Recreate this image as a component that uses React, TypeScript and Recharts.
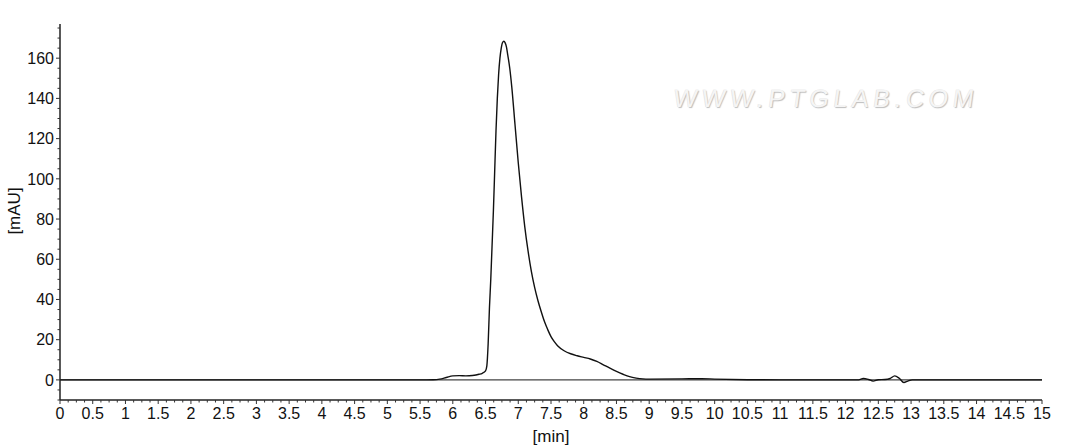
import React from "react";
import { LineChart, Line, XAxis, YAxis, ReferenceLine } from "recharts";

// retention time [min] and absorbance [mAU]
const times = [
  0, 5.5, 5.7, 5.8, 5.9, 6.0, 6.1, 6.2, 6.3, 6.4, 6.45, 6.5, 6.52, 6.54, 6.56,
  6.58, 6.6, 6.62, 6.64, 6.66, 6.68, 6.7, 6.72, 6.74, 6.76, 6.78, 6.8, 6.82,
  6.84, 6.87, 6.9, 6.95, 7.0, 7.05, 7.1, 7.15, 7.2, 7.25, 7.3, 7.35, 7.4, 7.45,
  7.5, 7.55, 7.6, 7.7, 7.8, 7.9, 8.0, 8.1, 8.2, 8.3, 8.4, 8.5, 8.6, 8.7, 8.8,
  8.9, 9.0, 9.5, 9.8, 10.0, 10.5, 11.0, 12.2, 12.27, 12.35, 12.42, 12.5, 12.6,
  12.68, 12.75, 12.82, 12.89, 12.95, 13.02, 13.2, 15,
];
const mAU = [
  0, 0, 0.1, 0.4, 1.2, 2.0, 2.1, 2.0, 2.2, 2.8, 3.3, 4.5, 7, 18, 36, 50, 67, 84,
  104, 124, 140, 152, 160, 165, 167.8, 168.4, 167.6, 165.5, 161.5, 155, 146,
  127, 108, 91, 76, 64, 54, 46, 39.5, 34, 29, 25, 21.5, 19, 17, 14.5, 13, 12,
  11.2, 10.4, 9.2, 7.5, 5.8, 4.2, 2.8, 1.6, 0.9, 0.5, 0.4, 0.5, 0.6, 0.4, 0.1,
  0, 0, 0.7, 0.2, -0.6, 0.1, 0.2, 0.7, 2.0, 0.8, -1.3, -0.6, 0, 0, 0,
];

const xTicks = Array.from({ length: 121 }, (_, i) => i * 0.125);
const yTicks = Array.from({ length: 38 }, (_, i) => -10 + i * 5);
const yLabels = [0, 20, 40, 60, 80, 100, 120, 140, 160];

const data = times.map((t, i) => ({ t, v: mAU[i] }));

const FONT = "'Liberation Sans', Arial, sans-serif";

const XTick = (props: any) => {
  const { x, y, payload } = props;
  const v = payload.value;
  const major = Math.abs(v * 2 - Math.round(v * 2)) < 1e-6;
  return (
    <g>
      <line x1={x} x2={x} y1={y} y2={y + (major ? 4 : 2.5)} stroke="#333" strokeWidth={1} />
      {major && (
        <text x={x} y={y + 19} textAnchor="middle" fontSize={16} fontFamily={FONT} fill="#111">
          {String(v)}
        </text>
      )}
    </g>
  );
};

const YTick = (props: any) => {
  const { x, y, payload } = props;
  const v = payload.value;
  const major = yLabels.includes(v);
  return (
    <g>
      <line x1={x} x2={x - (major ? 4 : 2.5)} y1={y} y2={y} stroke="#333" strokeWidth={1} />
      {major && (
        <text x={x - 6} y={y} dy="0.36em" textAnchor="end" fontSize={16} fontFamily={FONT} fill="#111">
          {String(v)}
        </text>
      )}
    </g>
  );
};

export default function App() {
  return (
    <div style={{ position: "absolute", left: 0, top: 0, width: 1065, height: 445, background: "#fff" }}>
      <LineChart width={1065} height={445} data={data} margin={{ top: 24, right: 23, left: 0, bottom: 0 }}>
        <XAxis
          dataKey="t"
          type="number"
          domain={[0, 15]}
          ticks={xTicks}
          interval={0}
          tickSize={0}
          tickMargin={0}
          tickLine={false}
          tick={<XTick />}
          height={45}
          axisLine={{ stroke: "#222", strokeWidth: 1.5 }}
          label={{ value: "[min]", position: "insideBottom", offset: 3, fontSize: 17, fontFamily: FONT, fill: "#111" }}
        />
        <XAxis xAxisId="top" orientation="top" type="number" domain={[0, 15]} height={0} tick={false} tickLine={false} axisLine={{ stroke: "#888", strokeWidth: 1.5 }} />
        <YAxis
          type="number"
          domain={[-10, 177]}
          allowDataOverflow
          ticks={yTicks}
          interval={0}
          tickSize={0}
          tickMargin={0}
          tickLine={false}
          tick={<YTick />}
          width={60}
          axisLine={{ stroke: "#222", strokeWidth: 1.5 }}
          label={{
            content: () => (
              <text x={14} y={211} transform="rotate(-90 14 211)" textAnchor="middle" dy="0.36em" fontSize={17} fontFamily={FONT} fill="#111">
                [mAU]
              </text>
            ),
          }}
        />
        <YAxis yAxisId="right" orientation="right" type="number" domain={[-10, 177]} width={0} tick={false} tickLine={false} axisLine={{ stroke: "#888", strokeWidth: 1.5 }} />
        <ReferenceLine y={0} stroke="#444" strokeWidth={1.3} />
        <Line dataKey="v" type="monotone" stroke="#111" strokeWidth={1.4} dot={false} isAnimationActive={false} />
      </LineChart>
      <div
        style={{
          position: "absolute",
          left: 672,
          top: 86,
          fontFamily: FONT,
          fontSize: 25,
          lineHeight: "25px",
          letterSpacing: 4.6,
          transform: "skewX(-8deg)",
          transformOrigin: "left bottom",
          color: "#f5f5f5",
          textShadow: "1px 1px 1px #bdbdbd, -0.5px -0.5px 0 #e3e3e3",
          whiteSpace: "nowrap",
          pointerEvents: "none",
        }}
      >
        WWW.PTGLAB.COM
      </div>
    </div>
  );
}
